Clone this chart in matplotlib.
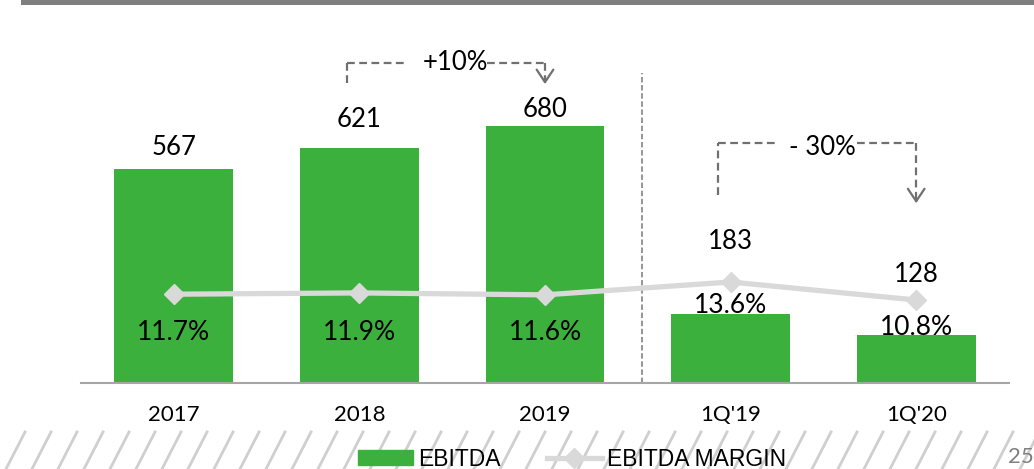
import matplotlib
matplotlib.use("Agg")
import matplotlib.pyplot as plt
from matplotlib.lines import Line2D
from matplotlib.patches import Patch, Rectangle

plt.rcParams['font.family'] = ['Lato', 'DejaVu Sans']

categories = ["2017", "2018", "2019", "1Q'19", "1Q'20"]
ebitda = [567, 621, 680, 183, 128]
margin = [11.7, 11.9, 11.6, 13.6, 10.8]
ebitda_labels = ["567", "621", "680", "183", "128"]
margin_labels = ["11.7%", "11.9%", "11.6%", "13.6%", "10.8%"]
# label heights as placed on the slide (they dodge the margin line)
ebitda_label_y = [624, 696, 722, 373, 288]
margin_label_y = [5.82, 5.82, 5.82, 10.02, 6.60]

green = '#3bb03c'
light = '#d9d9d9'
dash_col = '#707070'

fig = plt.figure(figsize=(10.34, 4.69), dpi=100)
W, H = 1034, 469
ax = fig.add_axes([81 / W, (H - 383) / H, 928 / W, 363 / H])
x = list(range(len(categories)))

ax.bar(x, ebitda, width=0.64, color=green, zorder=2)
ax.set_xlim(-0.5, 4.5)
ax.set_ylim(0, 960)
ax.set_xticks(x)
ax.set_xticklabels(categories, fontsize=16)
ax.tick_params(axis='x', length=0, pad=16)
ax.set_yticks([])
for s in ['top', 'left', 'right']:
    ax.spines[s].set_visible(False)
ax.spines['bottom'].set_color('#a6a6a6')
ax.spines['bottom'].set_linewidth(1.5)

for i in x:
    ax.text(i, ebitda_label_y[i], ebitda_labels[i], ha='center', va='center', fontsize=18.5)

# separator between years and quarters
ax.plot([2.52, 2.52], [0, 820], ls=(0, (3, 1.5)), color='#8c8c8c', lw=1.3, zorder=1)

# growth brackets
def bracket(x0, x1, y_top, y_left, y_tip, seg_l, seg_r, text, tx, ty):
    kw = dict(color=dash_col, lw=1.6, ls=(0, (3.5, 2)))
    ax.plot([x0, x0], [y_left, y_top], **kw)
    ax.plot([x0, seg_l], [y_top, y_top], **kw)
    ax.plot([seg_r, x1], [y_top, y_top], **kw)
    ax.plot([x1, x1], [y_top, y_tip + 20], **kw)
    ax.annotate('', xy=(x1, y_tip), xytext=(x1, y_tip + 30),
                arrowprops=dict(arrowstyle='->,head_length=0.9,head_width=0.6',
                                color=dash_col, lw=1.6))
    ax.text(tx, ty, text, ha='center', va='center', fontsize=18.5)

bracket(0.935, 2.0, 847, 794, 783, 1.246, 1.687, '+10%', 1.515, 847)
bracket(2.932, 4.0, 635, 497, 468, 3.245, 3.681, '- 30%', 3.492, 622)

ax2 = ax.twinx()
ax2.set_ylim(-2.11, 54.35)
ax2.plot(x, margin, color=light, lw=3.8, marker='D', ms=10.5, zorder=3)
ax2.set_yticks([])
for s in ax2.spines.values():
    s.set_visible(False)
for i in x:
    ax2.text(i, margin_label_y[i], margin_labels[i], ha='center', va='center', fontsize=19)

# slide decoration: top band, hatched footer, page number
fig.add_artist(Rectangle((21 / W, (H - 5) / H), 1, 5 / H, transform=fig.transFigure,
                         color='#7f7f7f', lw=0))
for x0 in range(-20, W + 30, 26):
    fig.add_artist(Line2D([x0 / W, (x0 + 19) / W], [0, 37 / H], transform=fig.transFigure,
                          color='#cfcfcf', lw=2, zorder=0))
fig.text(1008 / W, (H - 447) / H, '25', ha='left', va='top', fontsize=16, color='#7f7f7f')

handles = [Patch(color=green),
           Line2D([], [], color=light, lw=3.8, marker='D', ms=10)]
fig.legend(handles, ['EBITDA', 'EBITDA MARGIN'], loc='center',
           bbox_to_anchor=(572 / W, (H - 459) / H), ncol=2, frameon=False,
           prop={'family': ['Liberation Sans Narrow', 'Liberation Sans'], 'size': 16.5},
           handlelength=2.4, handleheight=0.62, handletextpad=0.25, columnspacing=2.0)

fig.savefig('out.png', dpi=100)
